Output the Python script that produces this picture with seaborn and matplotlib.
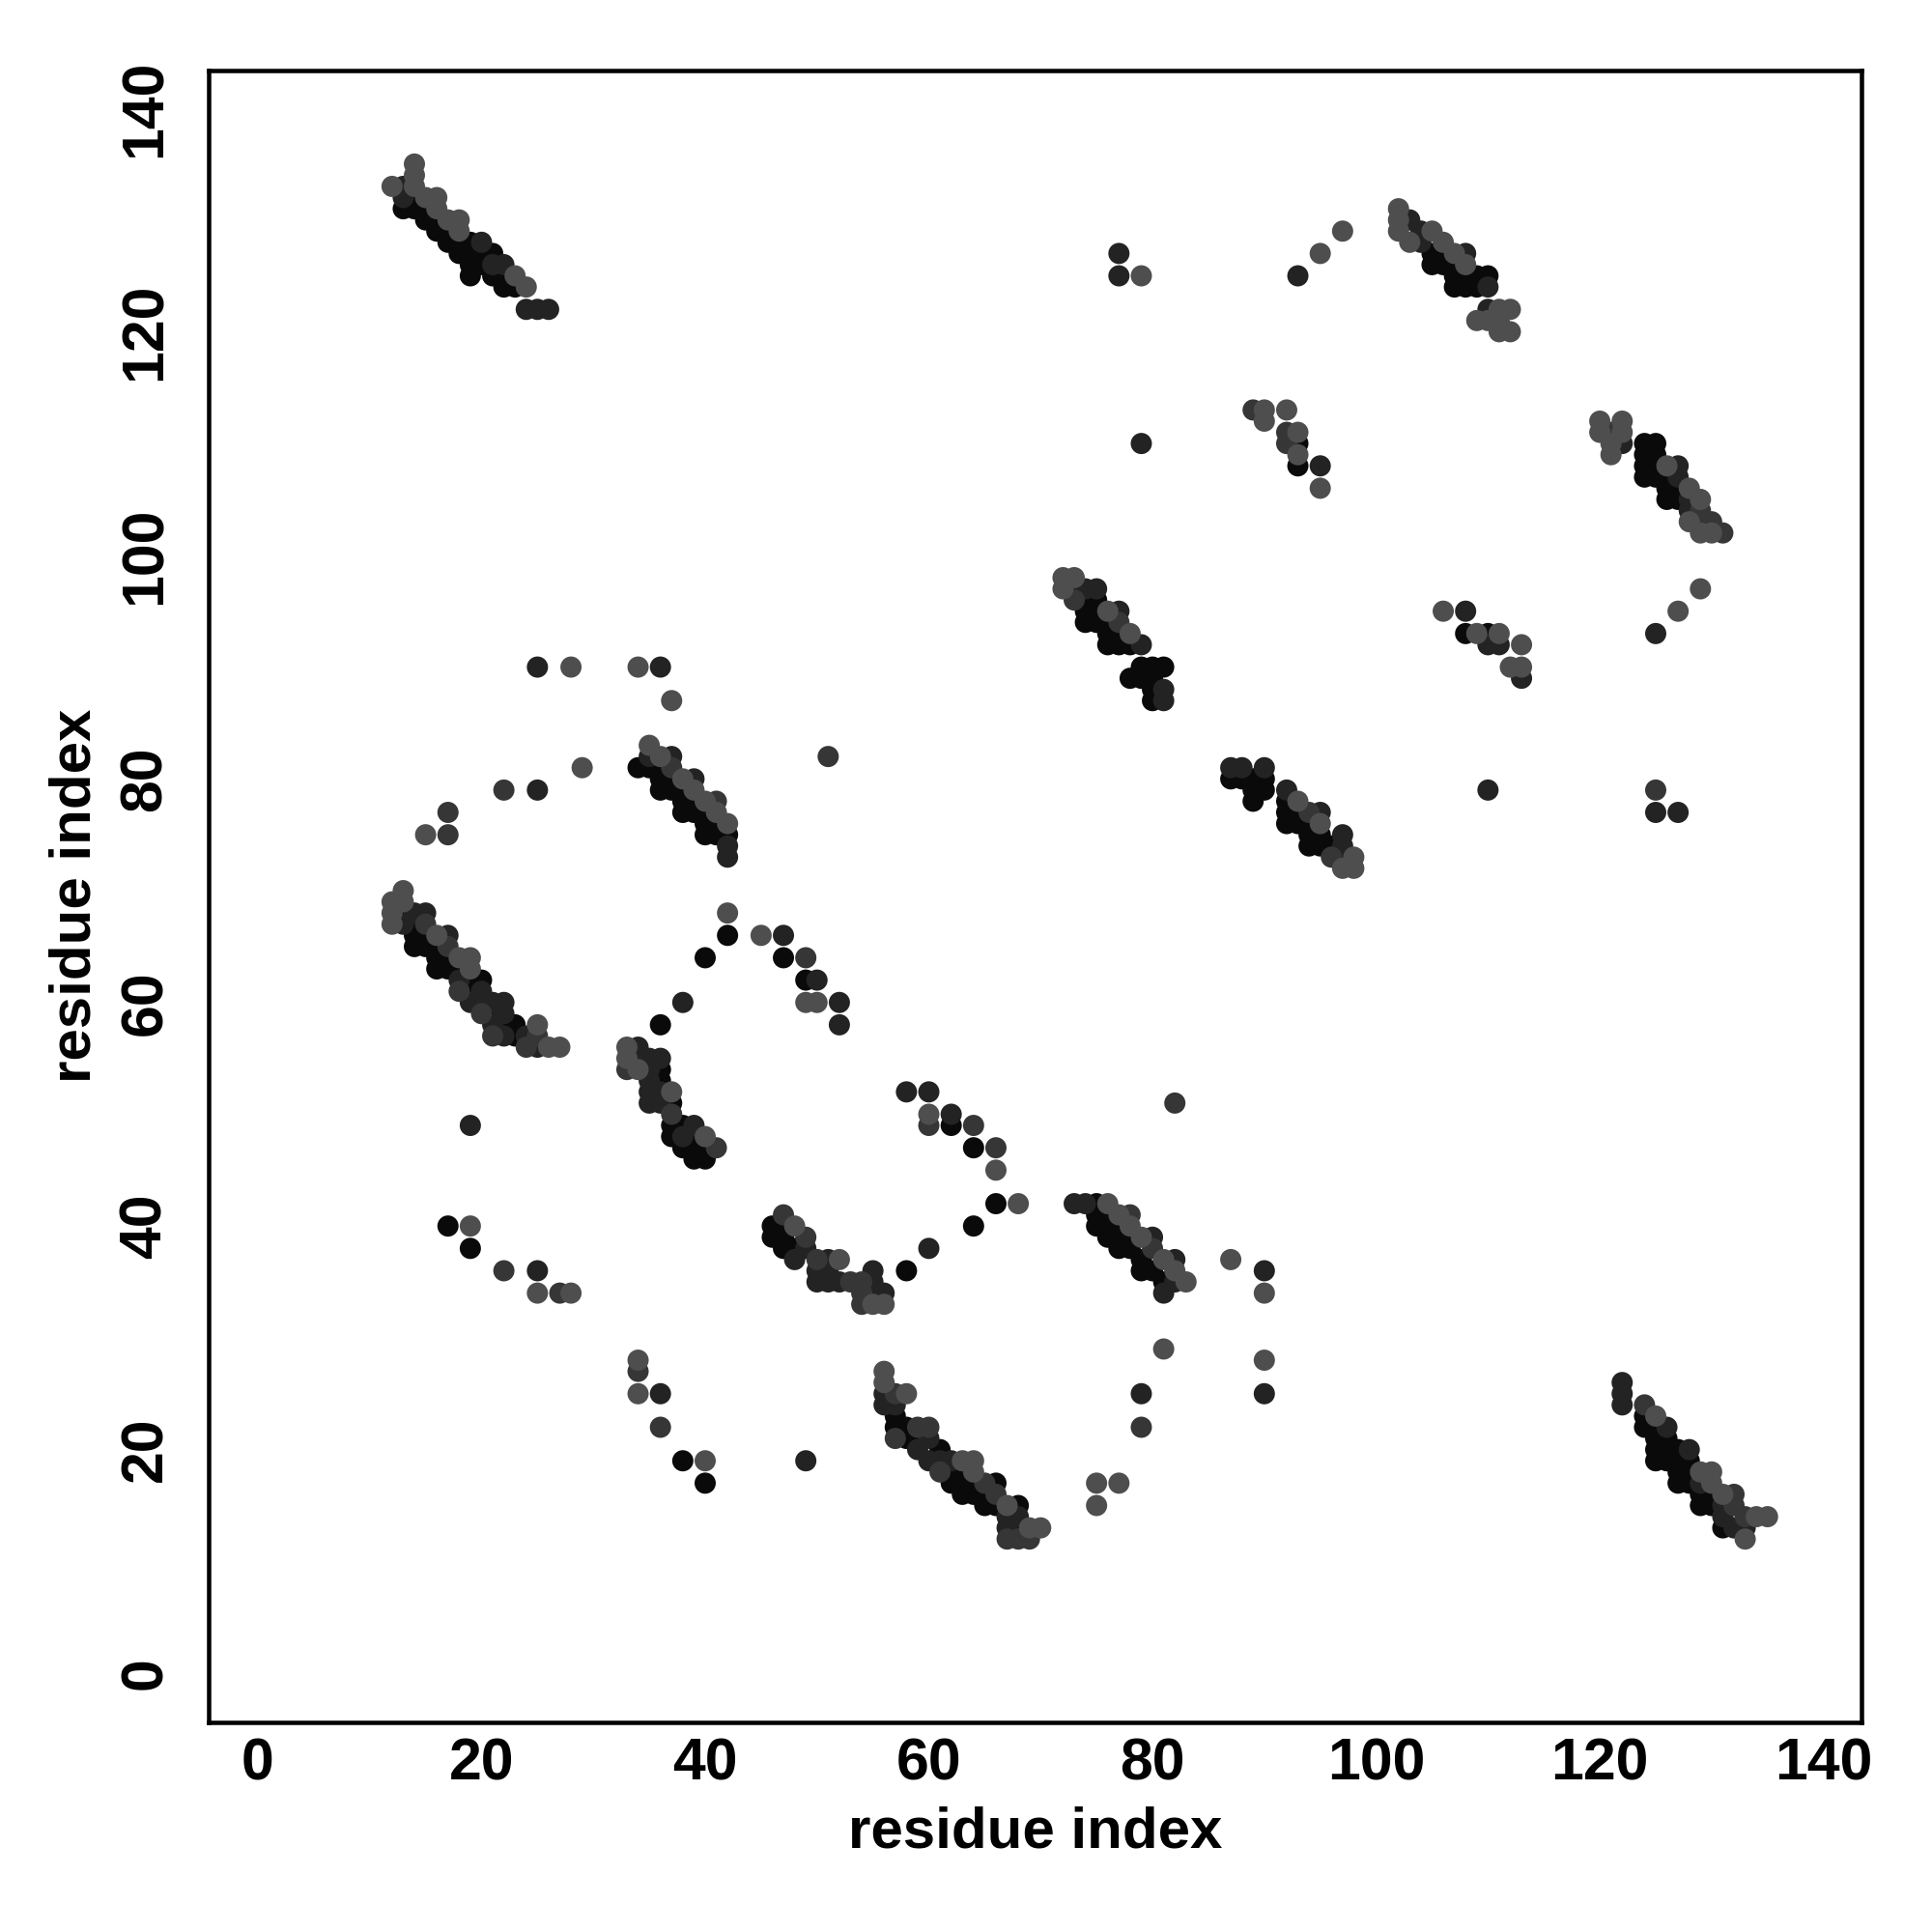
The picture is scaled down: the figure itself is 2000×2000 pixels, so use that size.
""" Contact map: residue index vs residue index, points shaded by strength """

import matplotlib
matplotlib.use("Agg")
import matplotlib.pyplot as plt
import seaborn as sns
import pandas as pd

# contact pairs (i, j) grouped by the grey level they are drawn with
black_pairs = [
    (13, 131), (14, 132), (14, 131), (15, 131), (15, 130), (16, 130), (16, 129), (17, 129), (17, 128),
    (18, 128), (18, 127), (19, 128), (19, 127), (19, 126), (20, 127), (20, 126), (21, 127), (21, 125),
    (22, 125), (22, 124), (23, 124), (19, 125),
    (105, 127), (105, 126), (106, 127), (106, 126), (107, 126), (107, 125), (108, 125), (107, 124),
    (108, 124), (109, 124), (110, 125), (109, 125),
    (93, 110), (93, 108),
    (124, 110), (125, 110), (124, 109), (124, 108), (124, 107), (125, 108), (125, 107), (126, 107),
    (126, 106), (126, 105), (127, 105), (125, 109), (127, 106),
    (108, 93), (110, 93),
    (74, 96), (74, 95), (74, 94), (75, 95), (75, 94), (75, 96), (76, 94), (76, 93), (76, 92), (77, 93),
    (77, 92), (78, 92), (78, 89), (79, 90), (79, 89), (80, 90), (81, 90), (80, 89), (80, 88), (80, 87),
    (87, 80), (88, 80), (89, 80), (90, 80), (90, 79), (89, 79), (89, 78), (92, 78), (92, 77), (92, 76),
    (93, 76), (93, 77), (94, 75), (94, 74), (95, 74), (95, 75), (96, 74), (94, 76),
    (34, 81), (35, 81), (36, 81), (36, 80), (36, 79), (37, 80), (37, 79), (38, 79), (38, 78), (38, 77),
    (39, 78), (39, 77), (40, 77), (40, 76), (40, 75), (41, 75), (41, 76), (42, 75),
    (13, 68), (14, 67), (14, 66), (14, 65), (15, 66), (15, 65), (16, 65), (16, 64), (16, 63), (17, 64),
    (17, 63), (18, 63), (19, 61), (19, 62), (21, 59), (22, 58), (23, 57), (23, 58), (20, 62),
    (42, 66), (40, 64), (47, 64), (49, 62), (36, 58),
    (37, 51), (37, 49), (37, 48), (38, 49), (39, 48), (39, 47), (39, 46), (40, 46), (40, 47), (36, 53),
    (36, 54), (38, 47), (17, 40), (19, 38),
    (62, 49), (64, 47), (66, 42), (64, 40), (58, 36),
    (46, 40), (46, 39), (47, 40), (47, 39), (48, 38), (47, 38),
    (75, 42), (75, 41), (75, 40), (76, 41), (77, 40), (77, 39), (77, 38), (78, 39), (79, 37), (79, 36),
    (80, 36), (81, 35), (76, 40), (76, 39), (78, 38),
    (38, 19), (40, 17),
    (57, 23), (57, 22), (58, 22), (58, 21), (59, 21), (61, 20), (62, 18), (63, 18), (63, 17), (63, 16),
    (64, 16), (65, 16), (65, 15), (66, 15), (68, 15), (68, 13), (66, 17), (64, 17), (62, 17),
    (124, 23), (124, 22), (125, 22), (125, 21), (126, 21), (125, 19), (126, 19), (126, 20), (127, 20),
    (127, 19), (127, 18), (127, 17), (128, 17), (128, 18), (129, 16), (129, 15), (130, 15), (130, 16),
    (131, 13), (125, 20), (128, 19),
]

dark_pairs = [
    (13, 133), (13, 132), (20, 128), (21, 126), (22, 126), (24, 122), (25, 122), (26, 122),
    (77, 127), (77, 125), (93, 125), (79, 110), (103, 130), (104, 129), (104, 128), (108, 127),
    (110, 124), (110, 122), (95, 108),
    (122, 110), (127, 108), (127, 107), (128, 104), (128, 105), (125, 93),
    (108, 95), (110, 92), (111, 92), (113, 89), (110, 79), (125, 77), (127, 77),
    (73, 97), (74, 97), (75, 97), (77, 95), (79, 92), (81, 88), (81, 87),
    (87, 81), (88, 81), (90, 81), (92, 79), (95, 77), (97, 75), (97, 74), (97, 73),
    (25, 90), (36, 90), (25, 79), (35, 82), (37, 82), (42, 74), (42, 73), (39, 80),
    (14, 68), (15, 68), (13, 67), (17, 66), (18, 62), (19, 60), (20, 60), (21, 60), (22, 60), (22, 59),
    (21, 58), (22, 57), (24, 57), (25, 56), (20, 61),
    (47, 66), (50, 62), (52, 60), (52, 58), (38, 60),
    (34, 56), (34, 55), (35, 55), (36, 55), (35, 54), (35, 53), (35, 52), (35, 51), (36, 52), (36, 51),
    (39, 49), (38, 48), (19, 49), (25, 36),
    (58, 52), (60, 52), (62, 50), (60, 38),
    (48, 37), (49, 38), (51, 37), (51, 36), (51, 35), (52, 35), (55, 36), (55, 35), (55, 34), (56, 34),
    (50, 36), (50, 35),
    (73, 42), (74, 42), (80, 39), (82, 37), (82, 35), (81, 34), (90, 36), (79, 25), (90, 25),
    (36, 25), (49, 19),
    (56, 24), (57, 24), (60, 21), (59, 20), (60, 19), (61, 19), (62, 19), (67, 14), (68, 14), (67, 13),
    (56, 25),
    (122, 26), (122, 25), (122, 24), (126, 22), (128, 20), (129, 17), (131, 15), (131, 14), (132, 13),
    (133, 13),
]

mid_pairs = [
    (89, 113), (92, 111), (92, 110),
    (121, 111), (129, 104), (129, 103), (130, 103), (131, 102), (125, 79),
    (73, 96), (77, 94), (94, 77), (96, 73),
    (22, 79), (17, 77), (17, 75), (37, 81), (41, 78), (51, 82),
    (15, 67), (17, 65), (18, 61), (20, 59), (21, 57), (25, 57), (24, 56),
    (49, 64),
    (33, 54), (37, 50), (41, 47), (22, 36), (27, 34),
    (60, 49), (64, 49), (66, 47),
    (47, 41), (49, 39), (50, 37), (53, 35), (54, 35), (54, 34), (54, 33),
    (78, 41), (80, 38), (82, 51), (79, 22),
    (34, 27), (36, 22),
    (57, 25), (59, 22), (60, 22), (57, 21), (61, 18), (65, 17), (66, 16), (67, 12), (68, 12), (69, 12),
    (124, 24), (132, 16), (132, 15), (133, 14),
]

grey_pairs = [
    (14, 135), (14, 134), (14, 133), (12, 133), (15, 132), (16, 132), (16, 131), (17, 130), (18, 130),
    (18, 129), (23, 125), (24, 124),
    (79, 125), (95, 127), (97, 129), (102, 131), (102, 130), (102, 129), (103, 128), (105, 129),
    (106, 128), (107, 127), (108, 126), (111, 122), (112, 122), (109, 121), (110, 121), (111, 121),
    (111, 120), (112, 120),
    (90, 113), (90, 112), (92, 113), (93, 111), (93, 109), (95, 106),
    (120, 112), (122, 112), (120, 111), (122, 111), (121, 110), (121, 109), (126, 108), (128, 106),
    (129, 105), (128, 103), (129, 102), (130, 102), (129, 97), (127, 95),
    (106, 95), (109, 93), (111, 93), (113, 92), (112, 90), (113, 90),
    (72, 98), (73, 98), (72, 97), (76, 95), (78, 93),
    (93, 78), (95, 76), (98, 73), (97, 72), (98, 72),
    (28, 90), (34, 90), (37, 87), (29, 81), (15, 75), (35, 83), (36, 82), (38, 80), (39, 79), (40, 78),
    (41, 77), (42, 76),
    (13, 70), (12, 69), (13, 69), (12, 68), (12, 67), (16, 66), (18, 64), (19, 64), (19, 63), (25, 58),
    (26, 56), (27, 56),
    (42, 68), (45, 66), (49, 60), (50, 60),
    (33, 56), (33, 55), (37, 52), (40, 48), (34, 54), (19, 40), (25, 34), (28, 34),
    (60, 50), (66, 45), (68, 42),
    (48, 40), (52, 37), (55, 33), (56, 33),
    (76, 42), (77, 41), (78, 40), (79, 39), (81, 37), (82, 36), (83, 35),
    (87, 37), (90, 34), (81, 29), (90, 28), (75, 17), (77, 17), (75, 15),
    (34, 28), (34, 25), (40, 19),
    (56, 27), (56, 26), (58, 25), (63, 19), (64, 19), (64, 18), (67, 15), (69, 13), (70, 13),
    (125, 23), (129, 18), (130, 18), (130, 17), (131, 16), (134, 14), (135, 14), (133, 12),
]

shade_colours = {"black": "#0a0a0a", "dark": "#232323", "mid": "#363636", "grey": "#4e4e4e"}

rows = []
for shade, pairs in [("black", black_pairs), ("dark", dark_pairs), ("mid", mid_pairs), ("grey", grey_pairs)]:
    for i, j in pairs:
        rows.append({"i": i, "j": j, "shade": shade})
df = pd.DataFrame(rows)

sns.set_theme(style="white")
plt.rcParams["font.family"] = ["Liberation Sans", "DejaVu Sans"]
plt.rcParams["font.weight"] = "bold"

fig = plt.figure(figsize=(8, 8), dpi=250)
ax = fig.add_axes([0.108, 0.1085, 0.8555, 0.8552])

sns.scatterplot(data=df, x="i", y="j", hue="shade", palette=shade_colours,
                s=40, linewidth=0, alpha=1, legend=False, ax=ax)

ax.set_xlim(-4.4, 143.4)
ax.set_ylim(-4.4, 143.4)
ticks = list(range(0, 141, 20))
ax.set_xticks(ticks)
ax.set_yticks(ticks)
ax.tick_params(axis="both", length=2.2, width=1, color="black", labelcolor="black", labelsize=17.5)
ax.tick_params(axis="x", pad=2.3)
ax.tick_params(axis="y", pad=8.2)
for lab in ax.get_yticklabels():
    lab.set_rotation(90)
    lab.set_va("center")

for sp in ax.spines.values():
    sp.set_linewidth(1.3)
    sp.set_color("black")

ax.set_xlabel("residue index", fontsize=17.3, fontweight="bold", color="black", labelpad=4)
ax.set_ylabel("residue index", fontsize=17.3, fontweight="bold", color="black", labelpad=5)

fig.savefig("out.png", dpi=250)
plt.close(fig)
